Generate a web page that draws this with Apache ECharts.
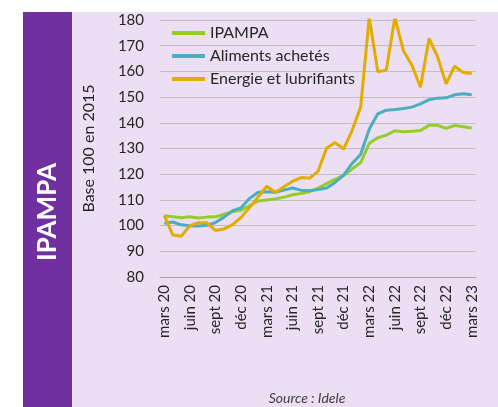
<!DOCTYPE html>
<html>
<head>
<meta charset="utf-8">
<script src="https://cdn.jsdelivr.net/npm/echarts@6/dist/echarts.min.js"></script>
<style>
  html, body { margin: 0; padding: 0; background: #ffffff; }
  #chart { width: 498px; height: 407px; }
</style>
</head>
<body>
<div id="chart"></div>
<script>
// mois de mars 2020 à mars 2023
const months = [
  'mars 20', 'avr 20', 'mai 20', 'juin 20', 'juil 20', 'août 20', 'sept 20', 'oct 20', 'nov 20', 'déc 20',
  'janv 21', 'févr 21', 'mars 21', 'avr 21', 'mai 21', 'juin 21', 'juil 21', 'août 21', 'sept 21', 'oct 21', 'nov 21', 'déc 21',
  'janv 22', 'févr 22', 'mars 22', 'avr 22', 'mai 22', 'juin 22', 'juil 22', 'août 22', 'sept 22', 'oct 22', 'nov 22', 'déc 22',
  'janv 23', 'févr 23', 'mars 23'
];
const ipampa = [
  103.8, 103.4, 103.1, 103.4, 103.0, 103.3, 103.4, 104.4, 105.4, 106.0,
  107.8, 109.6, 110.0, 110.4, 111.0, 112.0, 112.5, 113.2, 114.6, 116.3,
  118.0, 119.5, 122.0, 124.5, 132.0, 134.2, 135.2, 136.9, 136.5, 136.7,
  137.0, 139.0, 139.0, 137.8, 139.0, 138.5, 138.0
];
const aliments = [
  100.9, 101.4, 100.3, 99.9, 99.8, 100.1, 101.2, 103.3, 105.8, 106.9,
  110.6, 113.0, 113.2, 113.0, 113.8, 114.6, 113.8, 113.6, 114.0, 114.6,
  116.8, 119.6, 124.2, 127.8, 137.5, 143.5, 144.9, 145.2, 145.6, 146.1,
  147.4, 149.0, 149.6, 149.7, 150.9, 151.3, 150.9
];
const energie = [
  104.0, 96.3, 95.9, 100.0, 101.1, 101.1, 98.1, 98.7, 100.4, 103.2,
  107.0, 111.2, 115.3, 112.9, 115.1, 117.2, 118.7, 118.4, 121.1, 130.1,
  132.3, 129.8, 137.1, 146.2, 181.0, 159.9, 160.5, 181.0, 168.0, 162.4,
  153.8, 172.8, 165.7, 155.2, 162.0, 159.6, 159.2
];
const yTicks = [80, 90, 100, 110, 120, 130, 140, 150, 160, 170, 180];

const font = 'Lato, "Open Sans", sans-serif';
const chart = echarts.init(document.getElementById('chart'));

chart.setOption({
  animation: false,
  textStyle: { fontFamily: font },
  graphic: [
    { type: 'rect', z: -10, silent: true, shape: { x: 23, y: 12, width: 475, height: 395 }, style: { fill: '#ecdff4' } },
    { type: 'rect', z: -9, silent: true, shape: { x: 23, y: 12, width: 49, height: 395 }, style: { fill: '#7030a0' } },
    {
      type: 'text', x: 48, y: 212, rotation: Math.PI / 2,
      style: { text: 'IPAMPA', fill: '#ffffff', font: 'bold 26px ' + font, align: 'center', verticalAlign: 'middle' }
    },
    {
      type: 'text', x: 307, y: 398,
      style: { text: 'Source : Idele', fill: '#404040', font: 'italic 14px ' + font, align: 'center', verticalAlign: 'middle' }
    }
  ],
  legend: {
    orient: 'vertical',
    left: 167,
    top: 20,
    itemWidth: 33,
    itemHeight: 4,
    itemGap: 7,
    icon: 'rect',
    textStyle: { fontSize: 16, color: '#262626', fontFamily: font },
    data: ['IPAMPA', 'Aliments achetés', 'Energie et lubrifiants']
  },
  grid: { left: 160, right: 22, top: 20, bottom: 130, containLabel: false },
  xAxis: {
    type: 'category',
    data: months,
    boundaryGap: true,
    axisLine: { lineStyle: { color: '#a6a6a6', width: 1 } },
    axisTick: { interval: 2, length: 5, lineStyle: { color: '#a6a6a6' } },
    axisLabel: { interval: 2, rotate: 90, margin: 8, fontSize: 15, color: '#262626', fontFamily: font },
    splitLine: { show: false }
  },
  yAxis: {
    type: 'value',
    min: yTicks[0],
    max: yTicks[yTicks.length - 1],
    interval: 10,
    name: 'Base 100 en 2015',
    nameLocation: 'middle',
    nameRotate: 90,
    nameGap: 63,
    nameTextStyle: { fontSize: 16, color: '#262626', fontFamily: font },
    axisLine: { show: false },
    axisTick: { show: false },
    axisLabel: { margin: 16, fontSize: 15, color: '#262626', fontFamily: font },
    splitLine: { lineStyle: { color: '#bfbfbf', width: 1 } }
  },
  series: [
    {
      name: 'IPAMPA', type: 'line', data: ipampa, showSymbol: false, clip: true,
      lineStyle: { width: 3, color: '#94cd2a' }, itemStyle: { color: '#94cd2a' }, z: 3
    },
    {
      name: 'Aliments achetés', type: 'line', data: aliments, showSymbol: false, clip: true,
      lineStyle: { width: 3, color: '#4aadc0' }, itemStyle: { color: '#4aadc0' }, z: 4
    },
    {
      name: 'Energie et lubrifiants', type: 'line', data: energie, showSymbol: false, clip: true,
      lineStyle: { width: 3, color: '#e2ac00' }, itemStyle: { color: '#e2ac00' }, z: 5
    }
  ]
});
</script>
</body>
</html>
